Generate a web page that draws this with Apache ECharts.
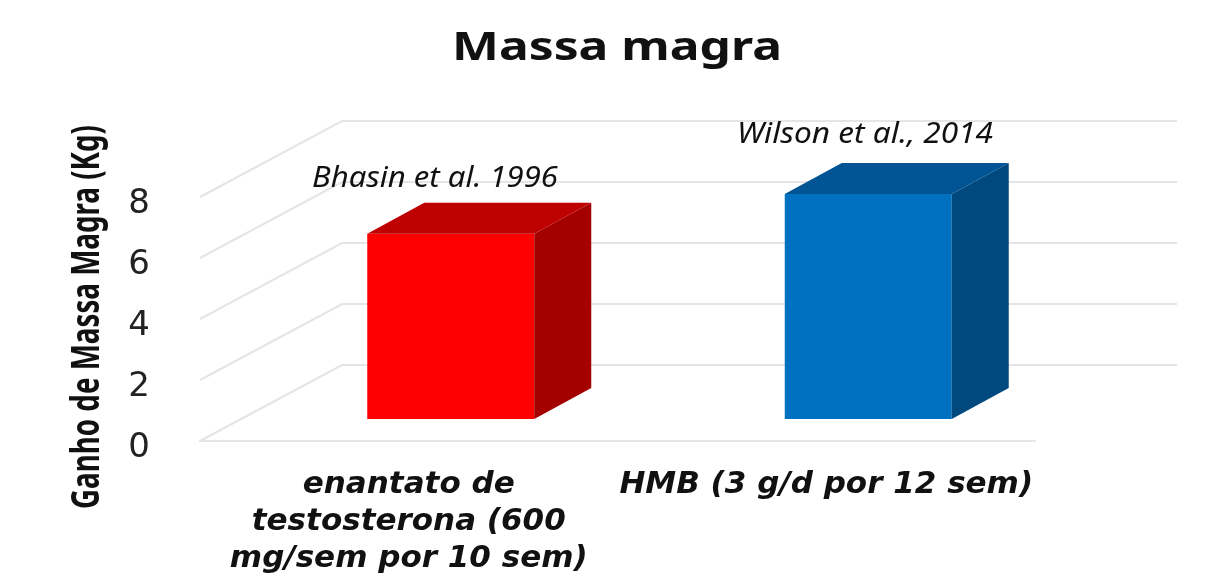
<!DOCTYPE html>
<html><head><meta charset="utf-8">
<style>html,body{margin:0;padding:0;background:#fff}#c{width:1224px;height:580px}</style>
<script src="https://cdn.jsdelivr.net/npm/echarts@6/dist/echarts.min.js"></script>
</head><body><div id="c"></div>
<script>
const chartTitle = 'Massa magra';
const yName = 'Ganho de Massa Magra (Kg)';
const categories = ['enantato de\ntestosterona (600\nmg/sem por 10 sem)', 'HMB (3 g/d por 12 sem)'];
const values = [6.07, 7.38];
const barColors = [['#ff0000', '#a50000', '#bf0000'], ['#0070c0', '#00497f', '#005493']];
const annotations = ['Bhasin et al. 1996', 'Wilson et al., 2014'];
const ticks = [0, 2, 4, 6, 8];
const wallDepth = [142, -76];
const barShift = [42, -22];
const barDepth = [57, -31];
const barRatio = 0.4;
const gridColor = '#e3e5e9';

const chart = echarts.init(document.getElementById('c'), null, {renderer: 'canvas'});

const mctx = document.createElement('canvas').getContext('2d');
function fit(text, font, target) { mctx.font = font; return target / mctx.measureText(text).width; }
function stretched(text, family, weight, style, size, cx, cy, target, color, rotation) {
  const font = style + ' ' + weight + ' ' + size + 'px "' + family + '"';
  return {type: 'text', x: cx, y: cy, rotation: rotation || 0, scaleX: fit(text, font, target), scaleY: 1, z: 10, silent: true,
    style: {text: text, fontFamily: family, fontWeight: weight, fontStyle: style, fontSize: size, fill: color, align: 'center', verticalAlign: 'middle'}};
}
function renderWall(params, api) {
  const band = api.size([1, 0])[0];
  const p = api.coord([0, api.value(0)]);
  const left = p[0] - band / 2;
  const y = p[1];
  const bx = left + wallDepth[0], by = y + wallDepth[1];
  return {type: 'polyline', silent: true,
    shape: {points: [[left, y], [bx, by], [bx + band * categories.length, by]]},
    style: {fill: null, stroke: gridColor, lineWidth: 2}};
}
function renderBar(params, api) {
  const band = api.size([1, 0])[0];
  const w = band * barRatio;
  const c = api.coord([api.value(0), api.value(1)]);
  const o = api.coord([api.value(0), 0]);
  const x0 = c[0] - w / 2 + barShift[0], x1 = x0 + w;
  const yt = c[1] + barShift[1], yb = o[1] + barShift[1];
  const dx = barDepth[0], dy = barDepth[1];
  const col = barColors[params.dataIndex];
  return {type: 'group', children: [
    {type: 'rect', shape: {x: x0, y: yt, width: w, height: yb - yt}, style: {fill: col[0]}},
    {type: 'polygon', shape: {points: [[x1, yt], [x1 + dx, yt + dy], [x1 + dx, yb + dy], [x1, yb]]}, style: {fill: col[1]}},
    {type: 'polygon', shape: {points: [[x0, yt], [x0 + dx, yt + dy], [x1 + dx, yt + dy], [x1, yt]]}, style: {fill: col[2]}}
  ]};
}
chart.setOption({
  animation: false,
  backgroundColor: '#ffffff',
  grid: {left: 200, right: 189, top: 197, bottom: 139},
  xAxis: {type: 'category', data: categories,
    axisTick: {show: false},
    axisLine: {lineStyle: {color: gridColor, width: 2}},
    axisLabel: {interval: 0, margin: 25, lineHeight: 37, color: '#111',
      fontFamily: 'DejaVu Sans', fontStyle: 'italic', fontWeight: 'bold', fontSize: 31}},
  yAxis: {type: 'value', min: 0, max: 8, interval: 2,
    splitLine: {show: false}, axisLine: {show: false}, axisTick: {show: false},
    axisLabel: {margin: 50, verticalAlign: 'top', lineHeight: 14, color: '#222', fontFamily: 'DejaVu Sans', fontSize: 34}},
  series: [
    {type: 'custom', coordinateSystem: 'cartesian2d', renderItem: renderWall, data: ticks.map(t => [t]), encode: {y: 0}, z: 1, silent: true},
    {type: 'custom', coordinateSystem: 'cartesian2d', renderItem: renderBar,
     data: values.map((v, i) => [i, v]), encode: {x: 0, y: 1}, z: 2, silent: true}
  ],
  graphic: [
    stretched(chartTitle, 'Noto Sans', 'bold', 'normal', 40, 617, 49, 330, '#111'),
    stretched(yName, 'Noto Sans', 'bold', 'normal', 40, 88, 317, 384, '#111', Math.PI / 2),
    stretched(annotations[0], 'Noto Sans', 'normal', 'italic', 29, 435, 179, 246, '#111'),
    stretched(annotations[1], 'Noto Sans', 'normal', 'italic', 29, 865, 135, 256, '#111')
  ]
});
</script></body></html>
